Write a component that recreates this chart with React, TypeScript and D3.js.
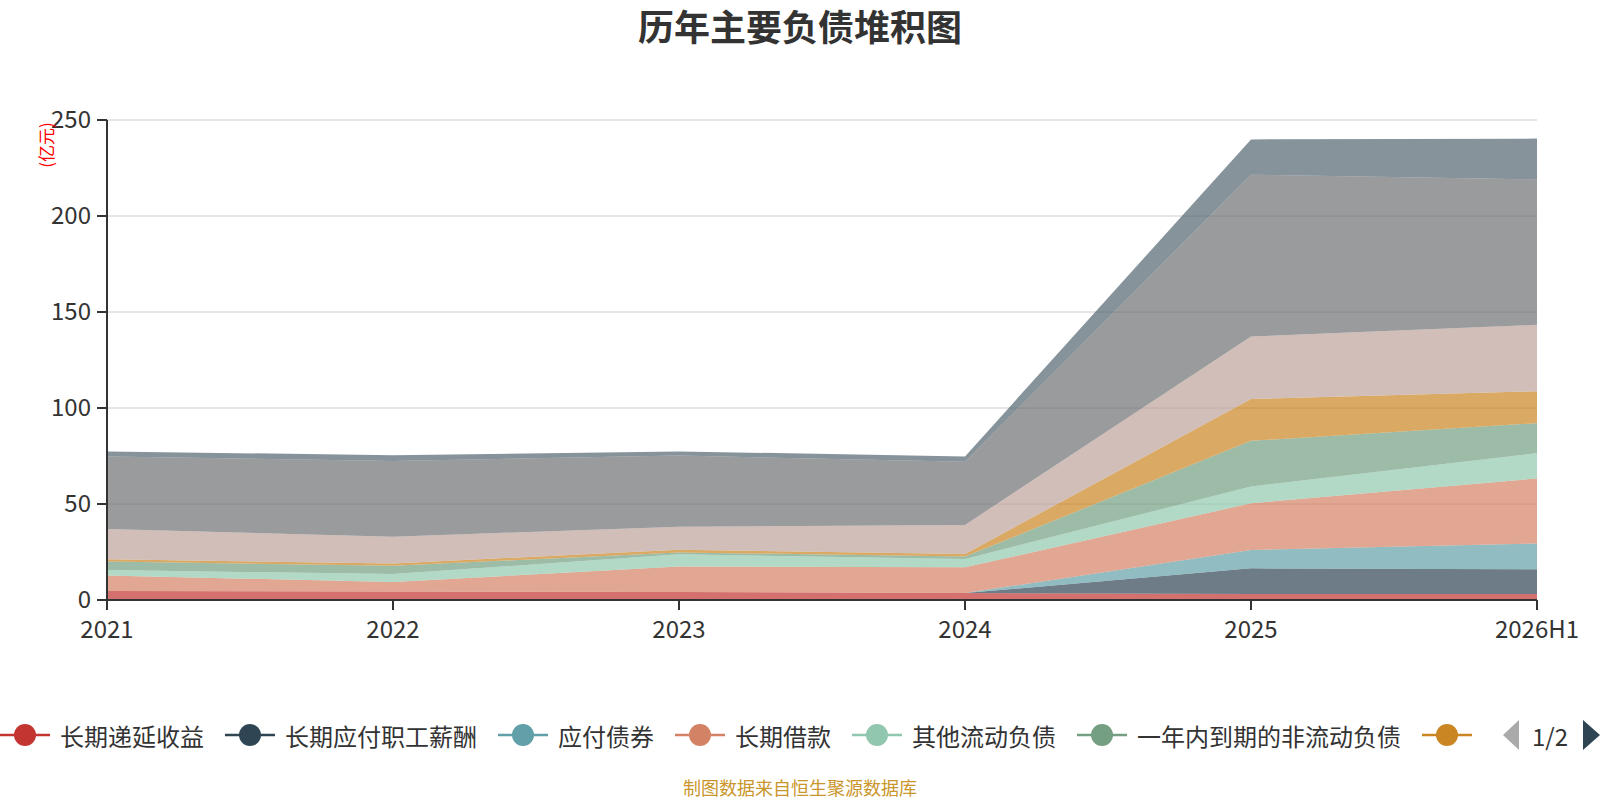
import React from 'react';
import * as d3 from 'd3';

// categories
const years = ['2021', '2022', '2023', '2024', '2025', '2026H1'];

// series values (亿元), bottom of the stack first
const deferredIncome = [4.7, 4.4, 4.2, 3.6, 3.1, 3.1];
const longTermPayroll = [0, 0, 0, 0, 13.4, 12.9];
const bondsPayable = [0, 0, 0, 0, 9.6, 13.4];
const longTermLoans = [8.0, 5.0, 13.2, 13.4, 24.3, 33.9];
const otherCurrent = [2.9, 4.1, 6.4, 4.4, 8.7, 13.2];
const currentPortion = [4.4, 4.3, 1.0, 1.2, 23.8, 15.6];
const contractLiab = [1.2, 1.2, 1.4, 1.4, 21.8, 16.6];
const accountsPayable = [15.8, 14.0, 12.0, 15.1, 32.5, 34.6];
const shortLoans = [37.8, 39.4, 37.0, 32.9, 84.3, 75.8];
const notesPayable = [2.6, 3.0, 2.2, 2.8, 18.4, 21.2];

const seriesNames = [
  '长期递延收益',
  '长期应付职工薪酬',
  '应付债券',
  '长期借款',
  '其他流动负债',
  '一年内到期的非流动负债',
  '合同负债',
  '应付账款',
  '短期借款',
  '应付票据',
];
const seriesValues = [
  deferredIncome,
  longTermPayroll,
  bondsPayable,
  longTermLoans,
  otherCurrent,
  currentPortion,
  contractLiab,
  accountsPayable,
  shortLoans,
  notesPayable,
];
const colors = ['#c23531', '#2f4554', '#61a0a8', '#d48265', '#91c7ae', '#749f83', '#ca8622', '#bda29a', '#6e7074', '#546570'];

const yTicks = [0, 50, 100, 150, 200, 250];

const FONT = '"Noto Sans CJK SC", "Noto Sans", sans-serif';

const App: React.FC = () => {
  const width = 1600;
  const height = 800;
  const margin = { top: 120, right: 63, bottom: 200, left: 107 };

  const x = d3.scalePoint<string>()
    .domain(years)
    .range([margin.left, width - margin.right]);

  const y = d3.scaleLinear()
    .domain([0, 250])
    .range([height - margin.bottom, margin.top]);

  // table for d3.stack
  const table = years.map((yr, i) => {
    const row: Record<string, any> = { year: yr };
    seriesNames.forEach((n, k) => { row[n] = seriesValues[k][i]; });
    return row;
  });

  const stacked = d3.stack<Record<string, any>>().keys(seriesNames)(table);

  const area = d3.area<d3.SeriesPoint<Record<string, any>>>()
    .x(d => x(d.data.year as string) as number)
    .y0(d => y(d[0]))
    .y1(d => y(d[1]));

  const x0 = margin.left;
  const x1 = width - margin.right;
  const yBase = y(0);

  // legend layout: icon 50px, text starts 10px after, items 21px apart
  // the scroll legend's page 1 ends at ~1480px, so the 7th label is hidden
  const legendY = 735;
  const legendClip = 1480;
  const charW = 24;
  let cursor = 0;
  const legendItems = seriesNames.slice(0, 7).map((name, i) => {
    const item = { name, color: colors[i], x: cursor, showText: cursor + 60 < legendClip };
    cursor += 60 + name.length * charW + 21;
    return item;
  });

  return (
    <svg
      width={width}
      height={height}
      style={{ position: 'absolute', left: 0, top: 0, background: '#fff' }}
      fontFamily={FONT}
    >
      {/* title */}
      <text x={800} y={25} textAnchor="middle" dominantBaseline="central" fontSize={36} fontWeight="bold" fill="#333">
        历年主要负债堆积图
      </text>

      {/* grid lines */}
      {yTicks.filter(t => t > 0).map(t => (
        <line key={t} x1={x0} x2={x1} y1={y(t)} y2={y(t)} stroke="#ccc" strokeWidth={1} />
      ))}

      {/* stacked areas */}
      {stacked.map((s, i) => (
        <path key={s.key} d={area(s) || ''} fill={colors[i]} fillOpacity={0.7} stroke="none" />
      ))}

      {/* y axis */}
      <line x1={x0} x2={x0} y1={margin.top} y2={yBase} stroke="#333" strokeWidth={2} />
      {yTicks.map(t => (
        <g key={t}>
          <line x1={x0 - 10} x2={x0} y1={y(t)} y2={y(t)} stroke="#333" strokeWidth={2} />
          <text x={x0 - 16} y={y(t) - 3} textAnchor="end" dominantBaseline="central" fontSize={24} fill="#333">
            {t}
          </text>
        </g>
      ))}
      <text
        transform={`translate(45, 145) rotate(-90)`}
        textAnchor="middle"
        dominantBaseline="central"
        fontSize={17}
        fill="#ff0000"
      >
        (亿元)
      </text>

      {/* x axis */}
      <line x1={x0} x2={x1} y1={yBase} y2={yBase} stroke="#333" strokeWidth={2} />
      {years.map(yr => (
        <g key={yr}>
          <line x1={x(yr)} x2={x(yr)} y1={yBase} y2={yBase + 10} stroke="#333" strokeWidth={2} />
          <text x={x(yr)} y={yBase + 27} textAnchor="middle" dominantBaseline="central" fontSize={24} fill="#333">
            {yr}
          </text>
        </g>
      ))}

      {/* legend (scroll page 1/2) */}
      {legendItems.map(it => (
        <g key={it.name} transform={`translate(${it.x}, ${legendY})`}>
          <line x1={0} x2={50} y1={0} y2={0} stroke={it.color} strokeWidth={2.5} />
          <circle cx={25} cy={0} r={11} fill={it.color} />
          {it.showText && (
            <text x={60} y={0} dominantBaseline="central" fontSize={24} fill="#333">
              {it.name}
            </text>
          )}
        </g>
      ))}
      <path d={`M1519,${legendY - 15} L1503,${legendY} L1519,${legendY + 15} Z`} fill="#aaa" />
      <text x={1550} y={legendY} textAnchor="middle" dominantBaseline="central" fontSize={24} fill="#333">
        1/2
      </text>
      <path d={`M1583,${legendY - 15} L1600,${legendY} L1583,${legendY + 15} Z`} fill="#2f4554" />

      {/* footer */}
      <text x={800} y={787} textAnchor="middle" dominantBaseline="central" fontSize={18} fill="#c9962b">
        制图数据来自恒生聚源数据库
      </text>
    </svg>
  );
};

export default App;
